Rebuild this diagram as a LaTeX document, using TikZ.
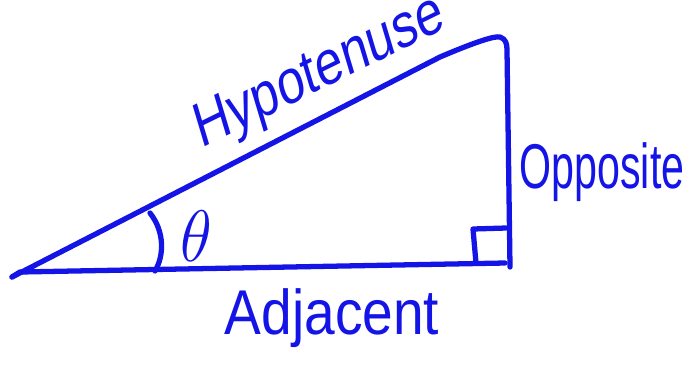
\documentclass[tikz,border=0pt]{standalone}
\usepackage{fontspec}
\setmainfont{Liberation Sans}
\definecolor{penBlue}{HTML}{1414E6}
\usepackage{tikz}
\usetikzlibrary{arrows.meta, positioning}

\begin{document}
\begin{tikzpicture}[x=0.01cm, y=-0.01cm, line width=1.5pt, line cap=round, line join=round,
    pen/.style={draw=penBlue}, label/.style={text=penBlue, inner sep=0pt, font=\fontsize{18}{18}\selectfont}]
  \useasboundingbox (0,0) rectangle (694,369);

  % triangle
  \draw[pen] (12,277) -- (20,272) -- (505,263);
  \draw[pen] (12,277) -- (440,57) .. controls (480,40) and (495,36) .. (500,37)
    .. controls (506,39) and (507,44) .. (507,50) -- (510,267);

  % right angle and angle mark
  \draw[pen] (476,263) -- (473,229) -- (506,228);
  \draw[pen] (150,213) .. controls (165,232) and (164,256) .. (155,271);

  \node[label, xscale=0.78, rotate=21] (hyp) at (320,74) {Hypotenuse};
  \node[label, xscale=0.65] (opp) at (602,172) {Opposite};
  \node[label, xscale=0.87] (adj) at (332,318) {Adjacent};
  \node[label, font=\fontsize{22}{22}\selectfont, xscale=0.9] (theta) at (196,236) {$\theta$};
\end{tikzpicture}
\end{document}
